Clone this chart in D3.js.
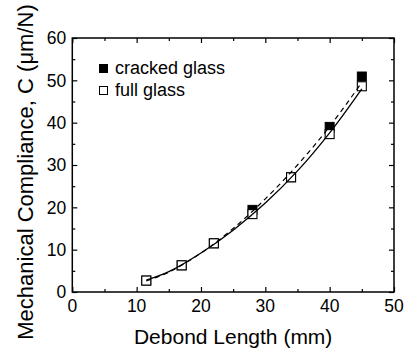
<!DOCTYPE html>
<html><head><meta charset="utf-8">
<script src="https://cdn.jsdelivr.net/npm/d3@7"></script>
<style>body{margin:0;background:#fff}svg{display:block}text{font-family:"Liberation Sans",Arial,sans-serif;fill:#000}</style>
</head><body><svg id="c" width="404" height="351"></svg>
<script>
const debondLength = [11.5, 17, 22, 28, 34, 40, 45];
const crackedGlass = [2.7, 6.3, 11.5, 19.4, 27.1, 39.0, 50.9];
const fullGlass    = [2.7, 6.3, 11.5, 18.4, 27.1, 37.3, 48.6];
const fitX         = [11.5, 15, 20, 25, 30, 35, 40, 45];
const fitFull      = [2.8, 4.8, 9.2, 14.6, 21.0, 28.6, 37.6, 48.0];
const fitCracked   = [2.6, 4.7, 9.2, 15.0, 22.0, 30.0, 39.1, 49.5];
const xTicks = [0, 10, 20, 30, 40, 50];
const yTicks = [0, 10, 20, 30, 40, 50, 60];
const legendLabels = ["cracked glass", "full glass"];

const svg = d3.select("#c");
const L = 72.3, R = 394, T = 38, B = 292;
const x = d3.scaleLinear().domain([0, 50]).range([L, R]);
const y = d3.scaleLinear().domain([0, 60]).range([B, T]);

const xMinor = d3.range(5, 50, 10), yMinor = d3.range(5, 60, 10);
function tickAxis(axisFn, scale, ticks, len, transform) {
  const g = svg.append("g").attr("transform", transform)
    .call(axisFn(scale).tickValues(ticks).tickSizeInner(len).tickSizeOuter(0).tickFormat(""));
  g.select(".domain").remove();
  g.selectAll(".tick line").attr("stroke", "#000").attr("stroke-width", 1.2);
  return g;
}
tickAxis(d3.axisTop, x, xTicks, 5, `translate(0,${B})`);
tickAxis(d3.axisTop, x, xMinor, 3, `translate(0,${B})`);
tickAxis(d3.axisBottom, x, xTicks, 5, `translate(0,${T})`);
tickAxis(d3.axisBottom, x, xMinor, 3, `translate(0,${T})`);
tickAxis(d3.axisRight, y, yTicks, 5, `translate(${L},0)`);
tickAxis(d3.axisRight, y, yMinor, 3, `translate(${L},0)`);
tickAxis(d3.axisLeft, y, yTicks, 5, `translate(${R},0)`);
tickAxis(d3.axisLeft, y, yMinor, 3, `translate(${R},0)`);

// tick labels
svg.append("g").selectAll("text").data(xTicks).join("text")
  .attr("x", d => x(d)).attr("y", B + 20).attr("text-anchor", "middle")
  .style("font-size", "17.5px").text(d => d);
svg.append("g").selectAll("text").data(yTicks).join("text")
  .attr("x", L - 6).attr("y", d => y(d) + 6.3).attr("text-anchor", "end")
  .style("font-size", "17.5px").text(d => d);

// frame
svg.append("rect").attr("x", L).attr("y", T).attr("width", R - L).attr("height", B - T)
  .attr("fill", "none").attr("stroke", "#000").attr("stroke-width", 1.5);

// titles
svg.append("text").attr("x", (L + R) / 2).attr("y", 343.5).attr("text-anchor", "middle")
  .style("font-size", "21px").text("Debond Length (mm)");
svg.append("text").attr("transform", "translate(32.5,172) rotate(-90)").attr("text-anchor", "middle")
  .style("font-size", "22px").text("Mechanical Compliance, C (\u03BCm/N)");

// markers
const s = 9;
svg.append("g").selectAll("rect").data(debondLength.map((d, i) => [d, crackedGlass[i]])).join("rect")
  .attr("x", d => x(d[0]) - s / 2).attr("y", d => y(d[1]) - s / 2).attr("width", s).attr("height", s)
  .attr("fill", "#000").attr("stroke", "#000").attr("stroke-width", 1);
svg.append("g").selectAll("rect").data(debondLength.map((d, i) => [d, fullGlass[i]])).join("rect")
  .attr("x", d => x(d[0]) - s / 2).attr("y", d => y(d[1]) - s / 2).attr("width", s).attr("height", s)
  .attr("fill", "#fff").attr("stroke", "#000").attr("stroke-width", 1.1);

// fit curves
const line = d3.line().x(d => x(d[0])).y(d => y(d[1])).curve(d3.curveCatmullRom);
svg.append("path").datum(fitX.map((d, i) => [d, fitCracked[i]])).attr("d", line)
  .attr("fill", "none").attr("stroke", "#000").attr("stroke-width", 1.2).attr("stroke-dasharray", "5,4");
svg.append("path").datum(fitX.map((d, i) => [d, fitFull[i]])).attr("d", line)
  .attr("fill", "none").attr("stroke", "#000").attr("stroke-width", 1.3);

// legend
const lg = svg.append("g");
legendLabels.forEach((lab, i) => {
  const cy = 68.5 + i * 22;
  lg.append("rect").attr("x", 103.5 - 4).attr("y", cy - 4).attr("width", 8).attr("height", 8)
    .attr("fill", i === 0 ? "#000" : "#fff").attr("stroke", "#000").attr("stroke-width", 1);
  lg.append("text").attr("x", 115).attr("y", cy + 5.5).style("font-size", "18px").text(lab);
});
</script></body></html>
